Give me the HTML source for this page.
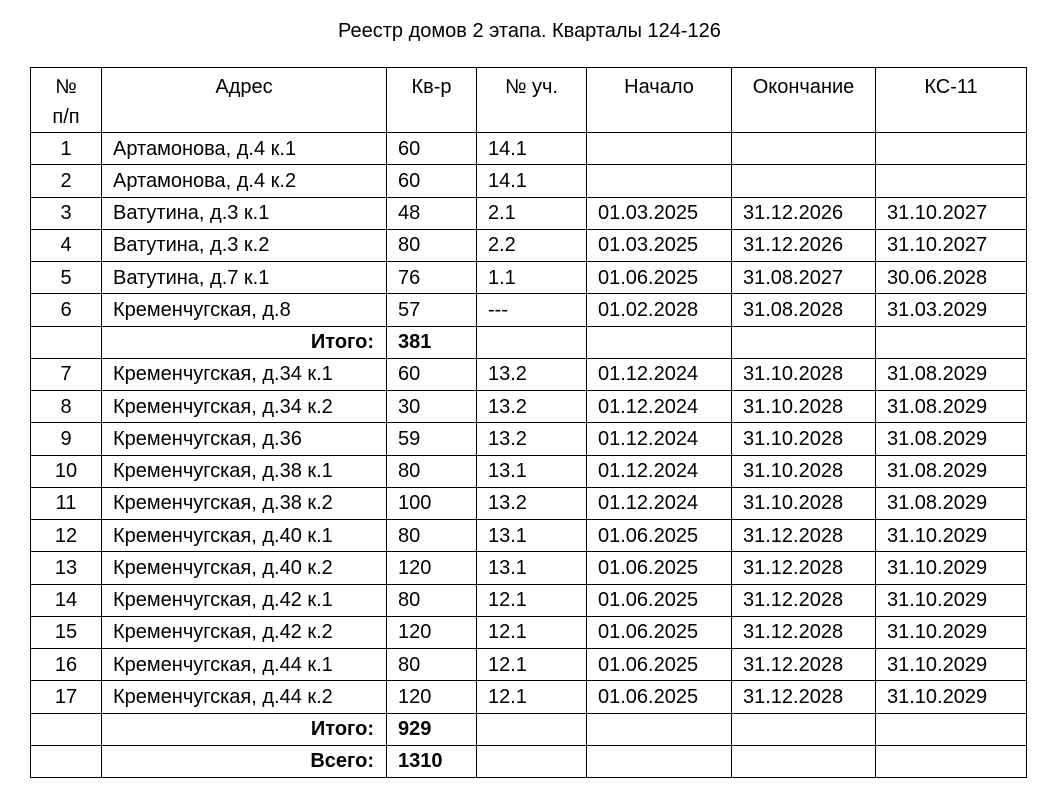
<!DOCTYPE html>
<html><head><meta charset="utf-8"><style>
body{margin:0;width:1059px;height:800px;background:#fff;font-family:"Liberation Sans","DejaVu Sans",sans-serif;color:#000;position:relative;overflow:hidden}
.t{position:absolute;top:20px;left:0;width:1059px;text-align:center;font-size:20px}
table{position:absolute;left:30px;top:67px;border-collapse:collapse;table-layout:fixed;font-size:20px}
td{border:1.5px solid #000;padding:0 0 0 11px;height:32.25px;white-space:nowrap;overflow:hidden;box-sizing:border-box;line-height:20px}
tr.h td{height:64px;vertical-align:top;text-align:center;padding:4px 0 0 0;line-height:30px}
td:first-child{text-align:center;padding:0}
.r{text-align:right;font-weight:bold;padding-right:12px}
.b{font-weight:bold}
</style></head><body>
<div class="t">Реестр домов 2 этапа. Кварталы 124-126</div>
<table>
<colgroup><col style="width:71px"><col style="width:285px"><col style="width:90px"><col style="width:110px"><col style="width:145px"><col style="width:144px"><col style="width:151px"></colgroup>
<tr class="h"><td>№<br>п/п</td><td>Адрес</td><td>Кв-р</td><td>№ уч.</td><td>Начало</td><td>Окончание</td><td>КС-11</td></tr>
<tr><td>1</td><td>Артамонова, д.4 к.1</td><td>60</td><td>14.1</td><td></td><td></td><td></td></tr>
<tr><td>2</td><td>Артамонова, д.4 к.2</td><td>60</td><td>14.1</td><td></td><td></td><td></td></tr>
<tr><td>3</td><td>Ватутина, д.3 к.1</td><td>48</td><td>2.1</td><td>01.03.2025</td><td>31.12.2026</td><td>31.10.2027</td></tr>
<tr><td>4</td><td>Ватутина, д.3 к.2</td><td>80</td><td>2.2</td><td>01.03.2025</td><td>31.12.2026</td><td>31.10.2027</td></tr>
<tr><td>5</td><td>Ватутина, д.7 к.1</td><td>76</td><td>1.1</td><td>01.06.2025</td><td>31.08.2027</td><td>30.06.2028</td></tr>
<tr><td>6</td><td>Кременчугская, д.8</td><td>57</td><td>---</td><td>01.02.2028</td><td>31.08.2028</td><td>31.03.2029</td></tr>
<tr><td></td><td class="r">Итого:</td><td class="b">381</td><td></td><td></td><td></td><td></td></tr>
<tr><td>7</td><td>Кременчугская, д.34 к.1</td><td>60</td><td>13.2</td><td>01.12.2024</td><td>31.10.2028</td><td>31.08.2029</td></tr>
<tr><td>8</td><td>Кременчугская, д.34 к.2</td><td>30</td><td>13.2</td><td>01.12.2024</td><td>31.10.2028</td><td>31.08.2029</td></tr>
<tr><td>9</td><td>Кременчугская, д.36</td><td>59</td><td>13.2</td><td>01.12.2024</td><td>31.10.2028</td><td>31.08.2029</td></tr>
<tr><td>10</td><td>Кременчугская, д.38 к.1</td><td>80</td><td>13.1</td><td>01.12.2024</td><td>31.10.2028</td><td>31.08.2029</td></tr>
<tr><td>11</td><td>Кременчугская, д.38 к.2</td><td>100</td><td>13.2</td><td>01.12.2024</td><td>31.10.2028</td><td>31.08.2029</td></tr>
<tr><td>12</td><td>Кременчугская, д.40 к.1</td><td>80</td><td>13.1</td><td>01.06.2025</td><td>31.12.2028</td><td>31.10.2029</td></tr>
<tr><td>13</td><td>Кременчугская, д.40 к.2</td><td>120</td><td>13.1</td><td>01.06.2025</td><td>31.12.2028</td><td>31.10.2029</td></tr>
<tr><td>14</td><td>Кременчугская, д.42 к.1</td><td>80</td><td>12.1</td><td>01.06.2025</td><td>31.12.2028</td><td>31.10.2029</td></tr>
<tr><td>15</td><td>Кременчугская, д.42 к.2</td><td>120</td><td>12.1</td><td>01.06.2025</td><td>31.12.2028</td><td>31.10.2029</td></tr>
<tr><td>16</td><td>Кременчугская, д.44 к.1</td><td>80</td><td>12.1</td><td>01.06.2025</td><td>31.12.2028</td><td>31.10.2029</td></tr>
<tr><td>17</td><td>Кременчугская, д.44 к.2</td><td>120</td><td>12.1</td><td>01.06.2025</td><td>31.12.2028</td><td>31.10.2029</td></tr>
<tr><td></td><td class="r">Итого:</td><td class="b">929</td><td></td><td></td><td></td><td></td></tr>
<tr><td></td><td class="r">Всего:</td><td class="b">1310</td><td></td><td></td><td></td><td></td></tr>
</table>
</body></html>
